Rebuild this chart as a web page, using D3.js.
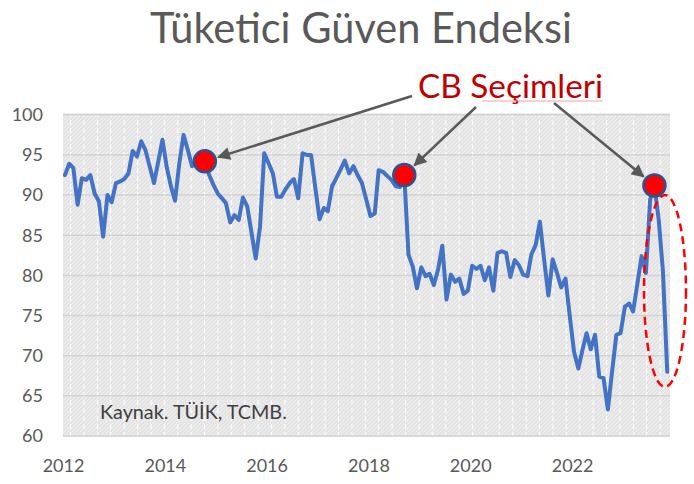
<!DOCTYPE html>
<html><head><meta charset="utf-8">
<script src="https://cdn.jsdelivr.net/npm/d3@7"></script>
<style>
html,body{margin:0;padding:0;background:#fff;}
svg{display:block;font-family:Lato,"Open Sans",sans-serif;}
</style>
</head><body>
<svg id="chart" width="694" height="484"></svg>
<script>
// ---------- data ----------
const chartTitle = "Tüketici Güven Endeksi";
const annotationLabel = "CB Seçimleri";
const sourceNote = "Kaynak. TÜİK, TCMB.";
const firstMonth = [2012, 0];   // January 2012, monthly series
const values = [
  92.5, 93.9, 93.4, 88.8, 92.1, 91.9, 92.5, 90.2, 89.2, 84.8, 90.0, 89.1,
  91.5, 91.7, 92.0, 92.7, 95.5, 94.8, 96.7, 95.6, 93.5, 91.5, 94.2, 96.9,
  93.4, 91.0, 89.3, 94.0, 97.5, 95.6, 93.6, 94.0, 94.0, 94.2, 92.5, 91.3,
  90.2, 89.6, 89.0, 86.6, 87.5, 86.9, 89.7, 88.6, 85.3, 82.1, 86.1, 95.2,
  94.0, 92.7, 89.8, 89.8, 90.7, 91.5, 92.0, 89.6, 95.2, 95.0, 95.0, 91.0,
  87.0, 88.4, 88.0, 91.1, 92.1, 93.2, 94.3, 92.7, 93.6, 92.5, 91.5, 89.5,
  87.4, 87.7, 93.1, 92.9, 92.4, 91.9, 91.1, 91.0, 92.5, 82.6, 81.1, 78.4,
  81.0, 79.9, 80.2, 78.8, 80.7, 83.7, 77.0, 80.1, 79.2, 79.6, 77.7, 78.1,
  81.2, 80.8, 81.2, 79.4, 81.0, 78.1, 82.8, 83.0, 82.8, 79.8, 81.9, 81.3,
  80.1, 79.9, 82.6, 83.8, 86.7, 81.9, 77.5, 82.0, 80.3, 78.5, 79.6, 75.0,
  70.5, 68.4, 70.6, 72.8, 70.8, 72.6, 67.4, 67.2, 63.3, 68.0, 72.6, 72.8,
  76.1, 76.5, 75.5, 79.0, 82.4, 80.3, 89.4, 91.2, 86.9, 80.5, 68.0
];
const electionMonths = ["2014-10", "2018-09", "2023-08"];
const yTicks = [60, 65, 70, 75, 80, 85, 90, 95, 100];
const xTickYears = [2012, 2014, 2016, 2018, 2020, 2022];

// ---------- build ----------
const months = values.map((v, i) => new Date(firstMonth[0], firstMonth[1] + i, 15));
const series = values.map((v, i) => ({date: months[i], value: v}));
const fmtMonth = d3.timeFormat("%Y-%m");
const markers = electionMonths.map(m => series.find(d => fmtMonth(d.date) === m));

const svg = d3.select("#chart");
const plot = {left: 63, right: 670, top: 114.8, bottom: 436};

const x = d3.scaleTime()
  .domain([new Date(2012, 0, 1), new Date(2024, 0, 1)])
  .range([plot.left, plot.left + 12 * 50.9]);
const y = d3.scaleLinear().domain([60, 100]).range([plot.bottom, plot.top]);

// patterns
const defs = svg.append("defs");
const diag = defs.append("pattern").attr("id", "diag")
  .attr("patternUnits", "userSpaceOnUse").attr("width", 4).attr("height", 4);
diag.append("rect").attr("width", 4).attr("height", 4).attr("fill", "#e2e2e2");
diag.append("path").attr("d", "M-1,1 l2,-2 M0,4 l4,-4 M3,5 l2,-2")
  .attr("stroke", "#efefef").attr("stroke-width", 1.2);
const vert = defs.append("pattern").attr("id", "vert")
  .attr("patternUnits", "userSpaceOnUse").attr("width", 13.4).attr("height", 8)
  .attr("x", 3);
vert.append("line").attr("x1", 0.5).attr("x2", 0.5).attr("y1", 0).attr("y2", 5)
  .attr("stroke", "#ffffff").attr("stroke-width", 1.2);

const marker = defs.append("marker").attr("id", "arrow")
  .attr("viewBox", "0 0 10 10").attr("refX", 9).attr("refY", 5)
  .attr("markerUnits", "userSpaceOnUse")
  .attr("markerWidth", 15).attr("markerHeight", 13).attr("orient", "auto");
marker.append("path").attr("d", "M0,0 L10,5 L0,10 Z").attr("fill", "#595959");

// plot background
svg.append("rect").attr("x", plot.left).attr("y", plot.top - 1.5)
  .attr("width", plot.right - plot.left).attr("height", plot.bottom - plot.top + 2)
  .attr("fill", "url(#diag)");
svg.append("rect").attr("x", plot.left).attr("y", plot.top - 1.5)
  .attr("width", plot.right - plot.left).attr("height", plot.bottom - plot.top + 2)
  .attr("fill", "url(#vert)");

// gridlines
svg.append("g").selectAll("line").data(yTicks).join("line")
  .attr("x1", plot.left).attr("x2", plot.right)
  .attr("y1", d => y(d)).attr("y2", d => y(d))
  .attr("stroke", "#d2d2d2").attr("stroke-width", 1.5);

// axes
const yAxis = svg.append("g").attr("transform", `translate(${plot.left},0)`)
  .call(d3.axisLeft(y).tickValues(yTicks).tickSize(0).tickPadding(20));
const xAxis = svg.append("g").attr("transform", `translate(0,${plot.bottom})`)
  .call(d3.axisBottom(x).tickValues(xTickYears.map(yr => new Date(yr, 0, 1)))
    .tickFormat(d3.timeFormat("%Y")).tickSize(0).tickPadding(23));
[yAxis, xAxis].forEach(g => {
  g.select(".domain").remove();
  g.selectAll("text").attr("fill", "#595959").style("font-size", "18px")
    .style("font-family", "Lato, 'Open Sans', sans-serif");
});

// line
svg.append("path").datum(series)
  .attr("fill", "none").attr("stroke", "#4472c4").attr("stroke-width", 4)
  .attr("stroke-linejoin", "round").attr("stroke-linecap", "round")
  .attr("d", d3.line().x(d => x(d.date)).y(d => y(d.value)));

// source note
const note = svg.append("text").attr("x", 100).attr("y", 419)
  .attr("fill", "#404040").style("font-size", "17px").text(sourceNote);

// title
const title = svg.append("text").attr("x", 361).attr("y", 43)
  .attr("text-anchor", "middle").attr("fill", "#595959")
  .style("font-size", "40px").text(chartTitle);

// annotation label
const lab = svg.append("text").attr("x", 418).attr("y", 98)
  .attr("fill", "#c00000").style("font-size", "28px").text(annotationLabel);

function fit(sel, target) {
  const fs = parseFloat(sel.style("font-size"));
  const w = sel.node().getComputedTextLength();
  sel.style("font-size", (fs * target / w) + "px");
}
fit(title, 422);
fit(lab, 185);
fit(note, 187);

// spell-check style underline under part of the label
svg.append("line").attr("x1", 482).attr("x2", 603).attr("y1", 101).attr("y2", 101)
  .attr("stroke", "#f4a0a0").attr("stroke-width", 1.2);

// dashed ellipse around the recent drop
svg.append("ellipse").attr("cx", 665).attr("cy", 291).attr("rx", 21).attr("ry", 96)
  .attr("fill", "none").attr("stroke", "#ff0000").attr("stroke-width", 2.5)
  .attr("stroke-dasharray", "8,5");

// arrows from label to markers
const arrowStarts = [[412, 96], [476, 107], [554, 103]];
const r = 11;
markers.forEach((m, i) => {
  const cx = x(m.date), cy = y(m.value);
  const [sx, sy] = arrowStarts[i];
  const dx = sx - cx, dy = sy - cy, len = Math.hypot(dx, dy);
  const tx = cx + dx / len * (r + 3), ty = cy + dy / len * (r + 3);
  svg.append("line").attr("x1", sx).attr("y1", sy).attr("x2", tx).attr("y2", ty)
    .attr("stroke", "#595959").attr("stroke-width", 2.5)
    .attr("marker-end", "url(#arrow)");
});

// election markers
svg.append("g").selectAll("circle").data(markers).join("circle")
  .attr("cx", d => x(d.date)).attr("cy", d => y(d.value)).attr("r", r)
  .attr("fill", "#ff0000").attr("stroke", "#2f528f").attr("stroke-width", 2.5);
</script>
</body></html>
